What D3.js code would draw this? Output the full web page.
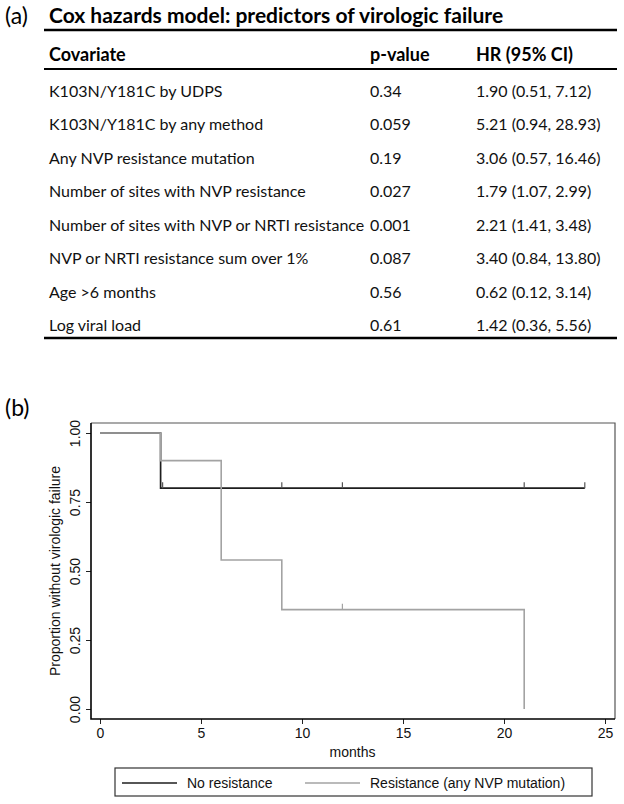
<!DOCTYPE html>
<html>
<head>
<meta charset="utf-8">
<script src="https://cdn.jsdelivr.net/npm/d3@7"></script>
<style>
  html, body { margin: 0; padding: 0; background: #fff; }
  svg { display: block; }
</style>
</head>
<body>
<svg id="chart" width="624" height="804"></svg>
<script>
// ---------- Data: panel (a) table ----------
const tableTitle = "Cox hazards model: predictors of virologic failure";
const tableHeaders = ["Covariate", "p-value", "HR (95% CI)"];
const covariates = [
  "K103N/Y181C by UDPS",
  "K103N/Y181C by any method",
  "Any NVP resistance mutation",
  "Number of sites with NVP resistance",
  "Number of sites with NVP or NRTI resistance",
  "NVP or NRTI resistance sum over 1%",
  "Age >6 months",
  "Log viral load"
];
const pValues = ["0.34", "0.059", "0.19", "0.027", "0.001", "0.087", "0.56", "0.61"];
const hrCI = [
  "1.90 (0.51, 7.12)",
  "5.21 (0.94, 28.93)",
  "3.06 (0.57, 16.46)",
  "1.79 (1.07, 2.99)",
  "2.21 (1.41, 3.48)",
  "3.40 (0.84, 13.80)",
  "0.62 (0.12, 3.14)",
  "1.42 (0.36, 5.56)"
];

// ---------- Data: panel (b) Kaplan-Meier ----------
const seriesNames = ["No resistance", "Resistance (any NVP mutation)"];
const noResTime = [0, 3, 24];
const noResSurv = [1.0, 0.8, 0.8];
const noResCensorTime = [3.1, 9, 12, 21, 24];
const noResCensorSurv = [0.8, 0.8, 0.8, 0.8, 0.8];
const resTime = [0, 3, 6, 9, 21];
const resSurv = [1.0, 0.9, 0.54, 0.36, 0.0];
const resCensorTime = [12];
const resCensorSurv = [0.36];
const xTicks = [0, 5, 10, 15, 20, 25];
const yTicks = [0, 0.25, 0.5, 0.75, 1.0];
const xLabel = "months";
const yLabel = "Proportion without virologic failure";

const svg = d3.select("#chart");

// ---------- Panel (a) ----------
const tFont = "Lato, 'Open Sans', sans-serif";
const colX = [49, 370, 476];
svg.append("text").attr("x", 5).attr("y", 24)
  .attr("font-family", tFont).attr("font-size", 23).text("(a)");
svg.append("text").attr("x", 49).attr("y", 23)
  .attr("font-family", tFont).attr("font-size", 21).attr("font-weight", "bold")
  .text(tableTitle);
const lineX1 = 44, lineX2 = 617;
[30, 69, 338].forEach((yy, i) => {
  svg.append("line").attr("x1", lineX1).attr("x2", lineX2)
    .attr("y1", yy).attr("y2", yy)
    .attr("stroke", "#000").attr("stroke-width", i === 1 ? 2 : 2.5);
});
svg.selectAll("text.hdr").data(tableHeaders).enter().append("text")
  .attr("class", "hdr")
  .attr("x", (d, i) => colX[i]).attr("y", 61)
  .attr("font-family", tFont).attr("font-size", 18).attr("font-weight", "bold")
  .text(d => d);

const rowY = d3.scaleLinear().domain([0, covariates.length - 1]).range([97, 331]);
const rows = svg.selectAll("g.row").data(covariates.map((c, i) => [c, pValues[i], hrCI[i]]))
  .enter().append("g").attr("class", "row");
rows.selectAll("text").data((d, i) => d.map(v => ({ v, i })))
  .enter().append("text")
  .attr("x", (d, j) => colX[j]).attr("y", d => rowY(d.i))
  .attr("font-family", tFont).attr("font-size", 16).attr("fill", "#111")
  .text(d => d.v);

// ---------- Panel (b) ----------
svg.append("text").attr("x", 5).attr("y", 416)
  .attr("font-family", tFont).attr("font-size", 23).text("(b)");

const pFont = "'Liberation Sans', Arial, Helvetica, sans-serif";
const box = { left: 91, right: 615, top: 423, bottom: 719 };
const x = d3.scaleLinear().domain([0, 25]).range([100, 605]);
const y = d3.scaleLinear().domain([0, 1]).range([709, 433]);

// frame: top/right
svg.append("path")
  .attr("d", `M${box.left},${box.top}H${box.right}V${box.bottom}`)
  .attr("fill", "none").attr("stroke", "#555").attr("stroke-width", 1.2);

// axes
const xAxis = d3.axisBottom(x).tickValues(xTicks).tickFormat(d3.format("d"))
  .tickSize(5).tickSizeOuter(0);
const gx = svg.append("g").attr("transform", `translate(0,${box.bottom})`).call(xAxis);
gx.select(".domain").remove();
gx.selectAll(".tick line").attr("stroke", "#222");
gx.selectAll(".tick text").attr("font-family", pFont).attr("font-size", 14)
  .attr("fill", "#111").attr("dy", null).attr("y", 19);

const yAxis = d3.axisLeft(y).tickValues(yTicks).tickFormat(d3.format(".2f"))
  .tickSize(5).tickSizeOuter(0);
const gy = svg.append("g").attr("transform", `translate(${box.left},0)`).call(yAxis);
gy.select(".domain").remove();
gy.selectAll(".tick line").attr("stroke", "#222");
gy.selectAll(".tick text")
  .attr("font-family", pFont).attr("font-size", 14).attr("fill", "#111")
  .attr("x", null).attr("dy", null).attr("y", null)
  .attr("text-anchor", "middle")
  .attr("transform", "translate(-11,0) rotate(-90)");

// left & bottom axis lines
svg.append("path")
  .attr("d", `M${box.left},${box.top}V${box.bottom}H${box.right}`)
  .attr("fill", "none").attr("stroke", "#000").attr("stroke-width", 1.6);

// axis titles
svg.append("text").attr("x", x(12.5)).attr("y", 757)
  .attr("text-anchor", "middle").attr("font-family", pFont).attr("font-size", 14)
  .attr("fill", "#111").text(xLabel);
svg.append("text")
  .attr("transform", `translate(60,${(box.top + box.bottom) / 2}) rotate(-90)`)
  .attr("text-anchor", "middle").attr("font-family", pFont).attr("font-size", 14)
  .attr("fill", "#111").text(yLabel);

// KM curves
const step = d3.line().x(d => x(d[0])).y(d => y(d[1])).curve(d3.curveStepAfter);
const colors = ["#1e1e1e", "#a3a3a3"];
svg.append("path").datum(d3.zip(noResTime, noResSurv))
  .attr("d", step).attr("fill", "none").attr("stroke", colors[0]).attr("stroke-width", 1.7);
svg.selectAll("line.c0").data(d3.zip(noResCensorTime, noResCensorSurv)).enter()
  .append("line").attr("class", "c0")
  .attr("x1", d => x(d[0])).attr("x2", d => x(d[0]))
  .attr("y1", d => y(d[1])).attr("y2", d => y(d[1]) - 6)
  .attr("stroke", "#555").attr("stroke-width", 1.2);
svg.append("path").datum(d3.zip(resTime, resSurv))
  .attr("d", step).attr("fill", "none").attr("stroke", colors[1]).attr("stroke-width", 1.6);
svg.selectAll("line.c1").data(d3.zip(resCensorTime, resCensorSurv)).enter()
  .append("line").attr("class", "c1")
  .attr("x1", d => x(d[0])).attr("x2", d => x(d[0]))
  .attr("y1", d => y(d[1])).attr("y2", d => y(d[1]) - 6)
  .attr("stroke", colors[1]).attr("stroke-width", 1.2);

// legend
const lg = svg.append("g");
lg.append("rect").attr("x", 115).attr("y", 768).attr("width", 477).attr("height", 28)
  .attr("fill", "#fff").attr("stroke", "#333").attr("stroke-width", 1.2);
const legX = [122, 305];
seriesNames.forEach((name, i) => {
  lg.append("line").attr("x1", legX[i]).attr("x2", legX[i] + 55)
    .attr("y1", 783).attr("y2", 783)
    .attr("stroke", colors[i]).attr("stroke-width", 1.6);
  lg.append("text").attr("x", legX[i] + 65).attr("y", 788)
    .attr("font-family", pFont).attr("font-size", 14).attr("fill", "#111").text(name);
});
</script>
</body>
</html>
